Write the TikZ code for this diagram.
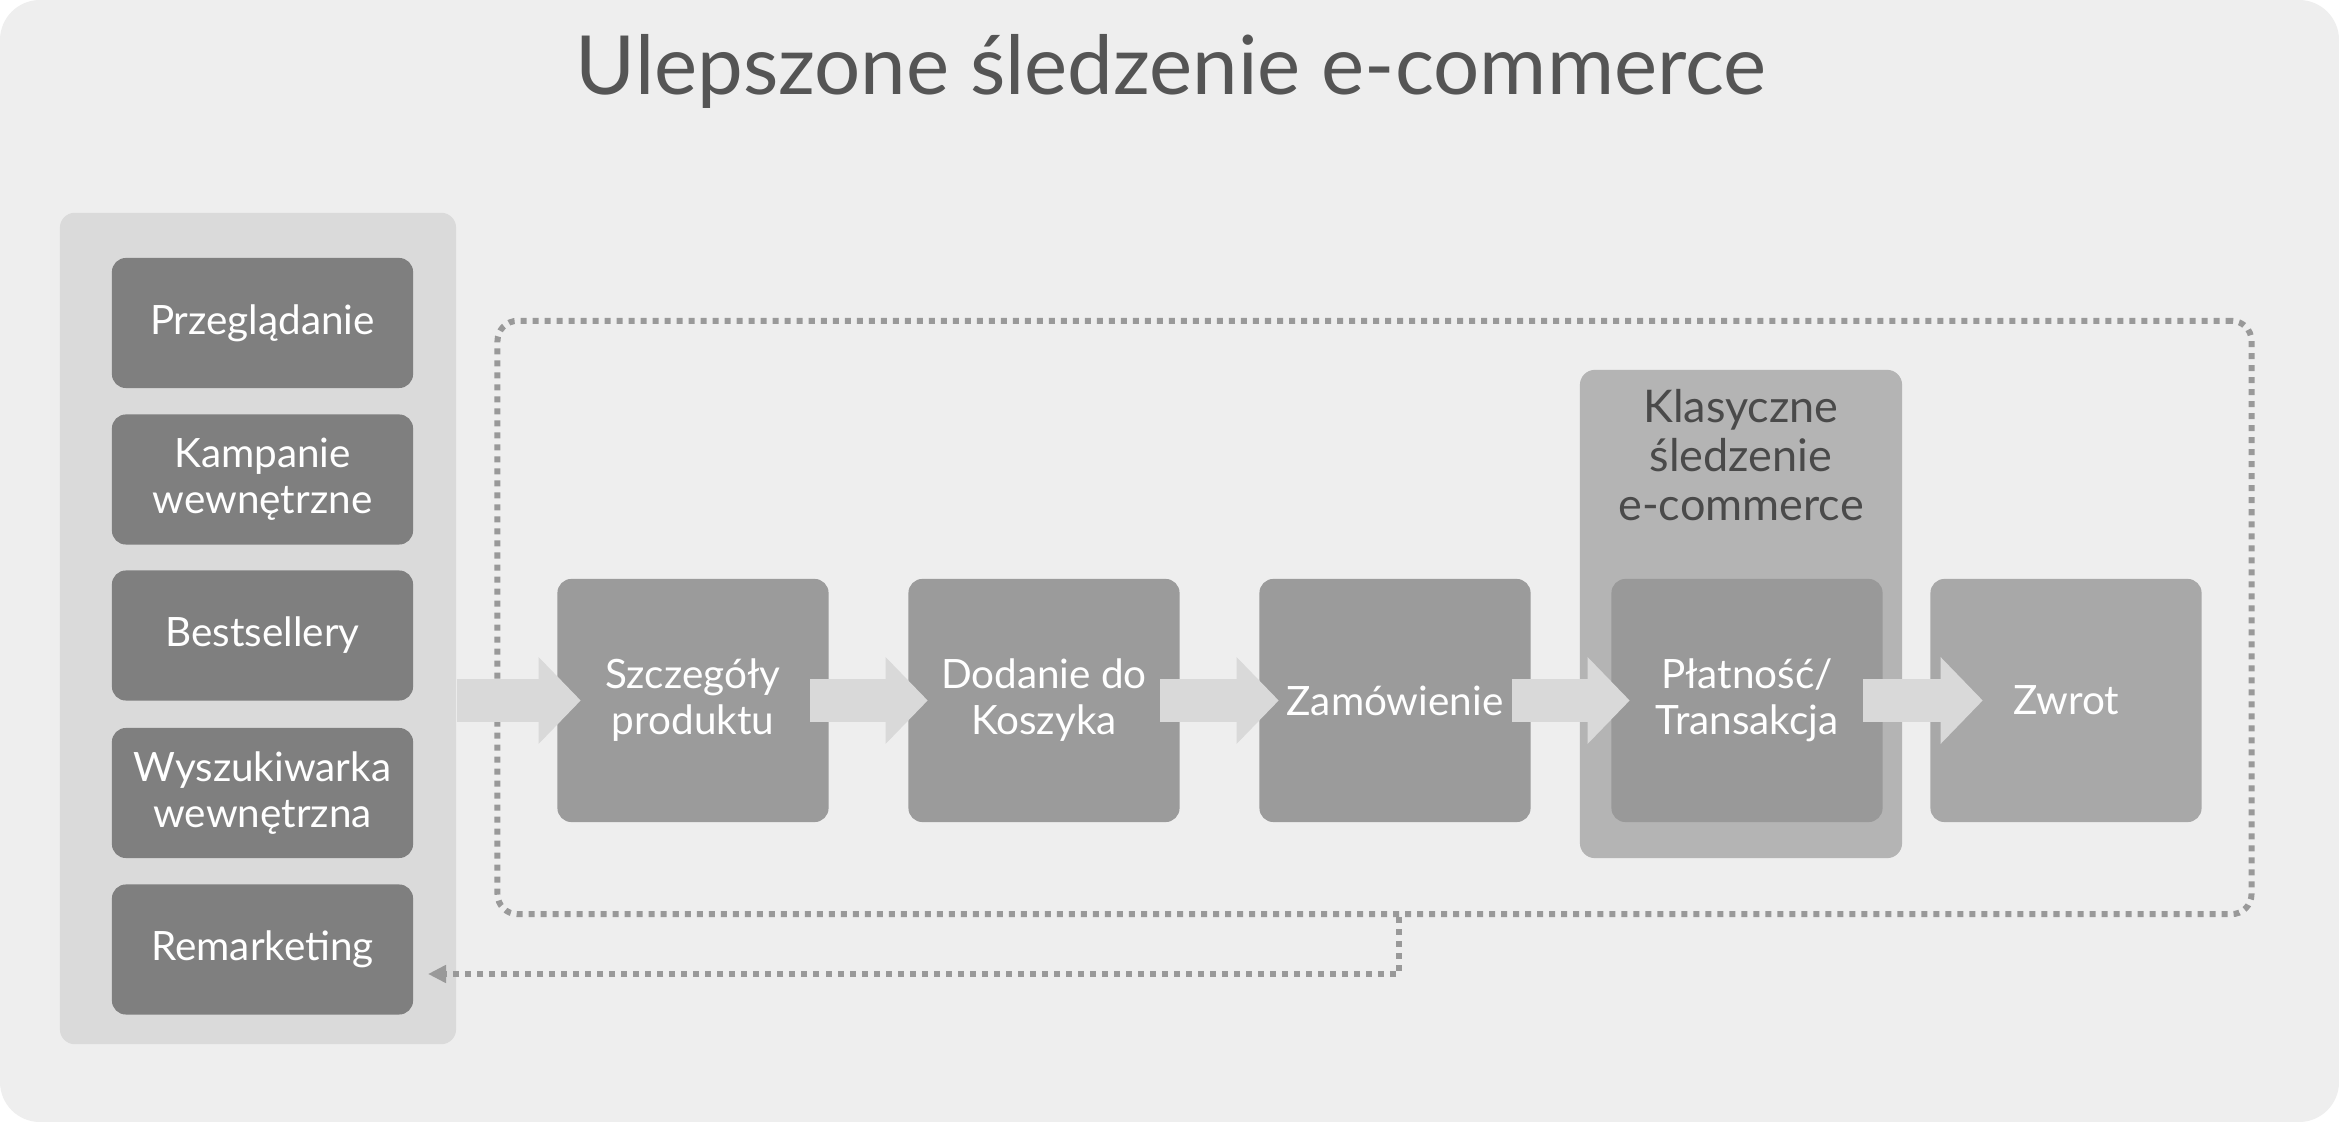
\documentclass[tikz,border=0pt]{standalone}
\usepackage{fontspec}
\setmainfont{Lato}
\usetikzlibrary{arrows.meta}
\definecolor{bgc}{HTML}{EEEEEE}
\definecolor{panelc}{HTML}{DADADA}
\definecolor{leftc}{HTML}{7F7F7F}
\definecolor{procc}{HTML}{9B9B9B}
\definecolor{zwrotc}{HTML}{A8A8A8}
\definecolor{groupc}{HTML}{B4B4B4}
\definecolor{payc}{HTML}{999999}
\definecolor{arrowc}{HTML}{D9D9D9}
\definecolor{dotc}{HTML}{999999}
\definecolor{titlec}{HTML}{555555}
\definecolor{grouptextc}{HTML}{4A4A4A}
\begin{document}
\begin{tikzpicture}[x=0.01cm,y=-0.01cm,
  leftbox/.style={rectangle, rounded corners=0.14cm, fill=leftc, text=white,
    minimum width=3.01cm, minimum height=1.30cm, align=center, inner sep=0pt,
    font=\fontsize{11.5}{13.1}\selectfont},
  procbox/.style={rectangle, rounded corners=0.14cm, fill=procc, text=white,
    minimum width=2.71cm, minimum height=2.43cm, align=center, inner sep=0pt,
    font=\fontsize{11.5}{13.1}\selectfont},
  bigarrow/.style={draw=arrowc, line width=0.42cm,
    -{Triangle[length=0.42cm, width=0.84cm]}},
  dotline/.style={draw=dotc, line width=0.06cm, dash pattern=on 0.06cm off 0.06cm}
]
\useasboundingbox (0,0) rectangle (2339,1122);
\fill[white] (0,0) rectangle (2339,1122);
\fill[bgc, rounded corners=0.4cm] (0,0) rectangle (2339,1122);

% title
\node[anchor=base, text=titlec, font=\fontsize{23.2}{27}\selectfont, inner sep=0pt] (title) at (1171,95) {Ulepszone śledzenie e-commerce};

% left panel
\node[rectangle, rounded corners=0.15cm, fill=panelc, minimum width=3.96cm, minimum height=8.31cm, inner sep=0pt] (panel) at (258,628.5) {};
\node[leftbox] (przeg) at (262.5,323) {Przeglądanie};
\node[leftbox] (kamp) at (262.5,479.5) {Kampanie\\wewnętrzne};
\node[leftbox] (best) at (262.5,635.5) {Bestsellery};
\node[leftbox] (wysz) at (262.5,793) {Wyszukiwarka\\wewnętrzna};
\node[leftbox] (remar) at (262.5,949.5) {Remarketing};

% dotted loop
\node[dotline, rectangle, rounded corners=0.2cm, minimum width=17.53cm, minimum height=5.93cm, inner sep=0pt] (loop) at (1374.5,617.5) {};

% classic group
\node[rectangle, rounded corners=0.15cm, fill=groupc, minimum width=3.22cm, minimum height=4.88cm, inner sep=0pt] (group) at (1741,614) {};
\node[text=grouptextc, align=center, inner sep=0pt, font=\fontsize{12.8}{13.9}\selectfont] (grouplabel) at (1741,455) {Klasyczne\\śledzenie\\e-commerce};

% process boxes
\node[procbox] (szcz) at (693,700.5) {Szczegóły\\produktu};
\node[procbox] (dod) at (1044,700.5) {Dodanie do\\Koszyka};
\node[procbox] (zam) at (1395,700.5) {Zamówienie};
\node[procbox, fill=payc] (plat) at (1747,700.5) {Płatność/\\Transakcja};
\node[procbox, fill=zwrotc] (zwrot) at (2066,700.5) {Zwrot};

% block arrows
\draw[bigarrow] (panel.east |- szcz.west) -- ([xshift=0.24cm]szcz.west);
\draw[bigarrow] ([xshift=-0.19cm]szcz.east) -- ([xshift=0.20cm]dod.west);
\draw[bigarrow] ([xshift=-0.20cm]dod.east) -- ([xshift=0.20cm]zam.west);
\draw[bigarrow] ([xshift=-0.19cm]zam.east) -- ([xshift=0.19cm]plat.west);
\draw[bigarrow] ([xshift=-0.20cm]plat.east) -- ([xshift=0.53cm]zwrot.west);

% return connector
\coordinate (rettip) at (428,974);
\draw[dotline, -{Triangle[length=0.18cm, width=0.17cm]}] ([xshift=0.04cm]loop.south -| zam.center) |- (rettip);
\end{tikzpicture}
\end{document}
